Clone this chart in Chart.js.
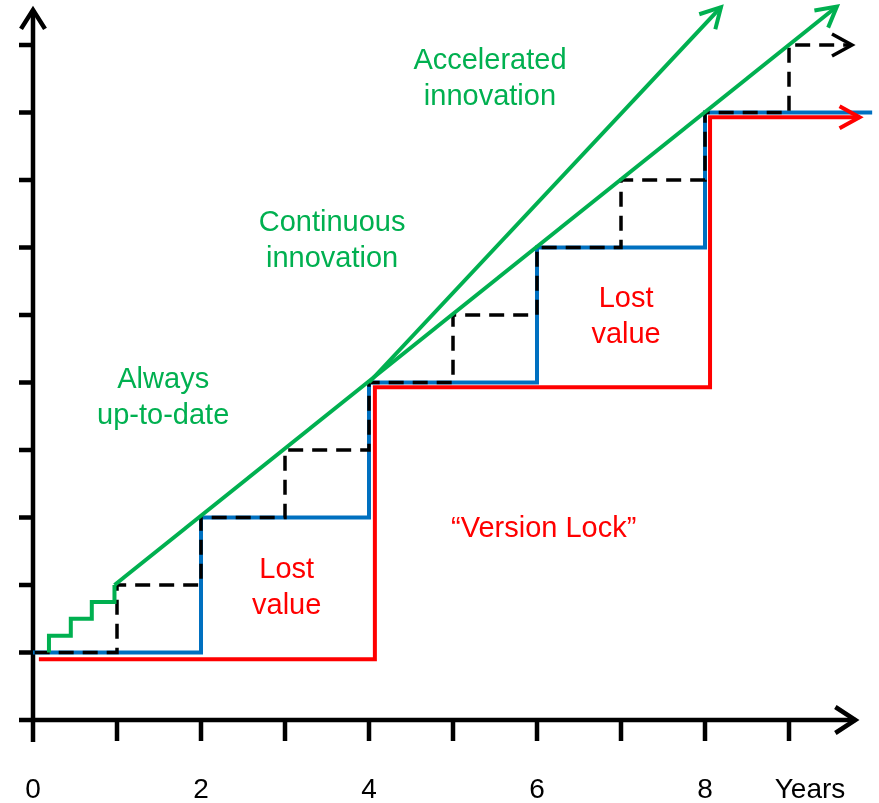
<!DOCTYPE html>
<html>
<head>
<meta charset="utf-8">
<title>Version Lock</title>
<script src="https://cdn.jsdelivr.net/npm/chart.js@4/dist/chart.umd.min.js"></script>
<style>
  body { margin: 0; background: #fff; }
  .wrap { width: 879px; height: 803px; position: relative; }
</style>
</head>
<body>
<div class="wrap"><canvas id="myChart"></canvas></div>
<script>
// values, x in years

// small green steps, "always up-to-date"
const alwaysX = [0.19, 0.45, 0.7, 0.97, 0.97];
const alwaysY = [1, 1.25, 1.5, 1.75, 2];

// green straight lines
const continuousX = [0.97, 9.57];
const continuousY = [2, 10.57];
const acceleratedX = [4, 8.19];
const acceleratedY = [5, 10.56];

// black dashed yearly upgrade
const yearlyX = [0.02, 1, 2, 3, 4, 5, 6, 7, 8, 9, 9.75];
const yearlyY = [1, 2, 3, 4, 5, 6, 7, 8, 9, 10, 10];

// blue two-yearly upgrade
const biennialX = [0, 2, 4, 6, 8, 9.99];
const biennialY = [1, 3, 5, 7, 9, 9];

// red "version lock"
const lockX = [0.07, 4.07, 8.06, 9.84];
const lockY = [0.9, 4.93, 8.93, 8.93];

// axes
const xTicks = [0, 1, 2, 3, 4, 5, 6, 7, 8, 9];
const yTicks = [0, 1, 2, 3, 4, 5, 6, 7, 8, 9, 10];
const xLabelValues = [0, 2, 4, 6, 8, 9.25];
const xLabels = ["0", "2", "4", "6", "8", "Years"];

const GREEN = "#00B050", RED = "#FF0000", BLUE = "#0070C0";

// text on the chart: centre x and first baseline in data units
const notes = [
  { lines: ["Accelerated", "innovation"], x: 5.44, y: 9.64, color: GREEN },
  { lines: ["Continuous", "innovation"], x: 3.56, y: 7.24, color: GREEN },
  { lines: ["Always", "up-to-date"], x: 1.55, y: 4.92, color: GREEN },
  { lines: ["Lost", "value"], x: 3.02, y: 2.1, color: RED },
  { lines: ["Lost", "value"], x: 7.06, y: 6.12, color: RED },
  { lines: ["\u201CVersion Lock\u201D"], x: 6.08, y: 2.71, color: RED },
];

const pts = (xs, ys) => xs.map((x, i) => ({ x: x, y: ys[i] }));

const arrowHead = (ctx, fx, fy, tx, ty, len, half, color, width) => {
  const a = Math.atan2(ty - fy, tx - fx);
  const bx = tx - len * Math.cos(a), by = ty - len * Math.sin(a);
  const nx = -Math.sin(a) * half, ny = Math.cos(a) * half;
  ctx.save();
  ctx.strokeStyle = color;
  ctx.lineWidth = width;
  ctx.lineJoin = "miter";
  ctx.beginPath();
  ctx.moveTo(bx + nx, by + ny);
  ctx.lineTo(tx, ty);
  ctx.lineTo(bx - nx, by - ny);
  ctx.stroke();
  ctx.restore();
};

const drawExtras = {
  id: "drawExtras",
  beforeDatasetsDraw(chart) {
    const { ctx } = chart;
    const x = chart.scales.x, y = chart.scales.y;
    const x0 = x.getPixelForValue(0), y0 = y.getPixelForValue(0);
    const yTop = y.getPixelForValue(10.52), xEnd = x.getPixelForValue(9.79);

    ctx.save();
    ctx.strokeStyle = "#000";
    ctx.lineWidth = 4.5;
    ctx.beginPath();
    ctx.moveTo(x0, y0 + 22);
    ctx.lineTo(x0, yTop);
    ctx.moveTo(x0 - 14, y0);
    ctx.lineTo(xEnd, y0);
    yTicks.forEach((v) => {
      const py = y.getPixelForValue(v);
      ctx.moveTo(x0 - 14, py);
      ctx.lineTo(x0, py);
    });
    xTicks.forEach((v) => {
      const px = x.getPixelForValue(v);
      ctx.moveTo(px, y0);
      ctx.lineTo(px, y0 + 21);
    });
    ctx.stroke();
    arrowHead(ctx, x0, y0, x0, yTop, 19, 12, "#000", 4.5);
    arrowHead(ctx, x0, y0, xEnd, y0, 20, 13, "#000", 4.5);

    ctx.fillStyle = "#000";
    ctx.font = '28px "Liberation Sans", Arial, sans-serif';
    ctx.textAlign = "center";
    ctx.textBaseline = "alphabetic";
    xLabels.forEach((t, i) => {
      ctx.fillText(t, x.getPixelForValue(xLabelValues[i]), y0 + 78);
    });
    ctx.restore();
  },
  afterDatasetsDraw(chart) {
    const { ctx } = chart;
    const x = chart.scales.x, y = chart.scales.y;

    chart.data.datasets.forEach((ds, i) => {
      if (!ds.arrow) return;
      const d = chart.getDatasetMeta(i).data;
      const a = d[d.length - 2], b = d[d.length - 1];
      arrowHead(ctx, a.x, a.y, b.x, b.y, 20, 11, ds.borderColor, ds.borderWidth);
    });

    ctx.save();
    ctx.font = '29px "Liberation Sans", Arial, sans-serif';
    ctx.textAlign = "center";
    ctx.textBaseline = "alphabetic";
    notes.forEach((n) => {
      ctx.fillStyle = n.color;
      const px = x.getPixelForValue(n.x), py = y.getPixelForValue(n.y);
      n.lines.forEach((t, k) => ctx.fillText(t, px, py + k * 36));
    });
    ctx.restore();
  },
};

const lineDefaults = {
  pointRadius: 0,
  tension: 0,
  fill: false,
  clip: false,
  borderJoinStyle: "miter",
  borderWidth: 4,
};

// first dataset is painted on top
const data = {
  datasets: [
    { ...lineDefaults, data: pts(alwaysX, alwaysY), borderColor: GREEN, stepped: "after" },
    { ...lineDefaults, data: pts(continuousX, continuousY), borderColor: GREEN, arrow: true },
    { ...lineDefaults, data: pts(acceleratedX, acceleratedY), borderColor: GREEN, arrow: true },
    {
      ...lineDefaults,
      data: pts(yearlyX, yearlyY),
      borderColor: "#000",
      borderWidth: 3.5,
      borderDash: [15, 9],
      stepped: "before",
      arrow: true,
    },
    { ...lineDefaults, data: pts(biennialX, biennialY), borderColor: BLUE, stepped: "before" },
    { ...lineDefaults, data: pts(lockX, lockY), borderColor: RED, stepped: "before", arrow: true },
  ],
};

const config = {
  type: "line",
  data: data,
  options: {
    responsive: true,
    maintainAspectRatio: false,
    animation: false,
    events: [],
    layout: { padding: { left: 33, right: 6, top: 4.5, bottom: 83 } },
    plugins: { legend: { display: false }, tooltip: { enabled: false } },
    scales: {
      x: { type: "linear", min: 0, max: 10, display: false },
      y: { type: "linear", min: 0, max: 10.6, display: false },
    },
  },
  plugins: [drawExtras],
};

const myChart = new Chart(document.getElementById("myChart"), config);
</script>
</body>
</html>
